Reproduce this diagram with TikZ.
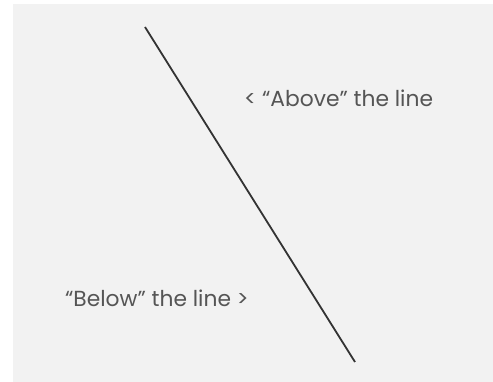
\documentclass[tikz,border=0pt]{standalone}
\usepackage{fontspec}
\setmainfont{Poppins}
\definecolor{bg}{HTML}{F2F2F2}
\definecolor{ink}{HTML}{333333}
\definecolor{txt}{HTML}{555555}
\begin{document}
\begin{tikzpicture}[x=1pt,y=1pt,
  lbl/.style={anchor=base west,inner sep=0pt,text=txt,font=\fontsize{21.8}{26}\selectfont}]
\useasboundingbox (0,0) rectangle (493,382);
\fill[white] (0,0) rectangle (493,382);
\fill[bg] (13,0) rectangle (493,378);
\coordinate (top) at (145,355);
\coordinate (bot) at (355,20);
\draw[ink,line width=1.8pt] (top) -- (bot);
\node[lbl] (above) at (244,275) {< “Above” the line};
\node[lbl] (below) at (65,75) {“Below” the line >};
\end{tikzpicture}
\end{document}
